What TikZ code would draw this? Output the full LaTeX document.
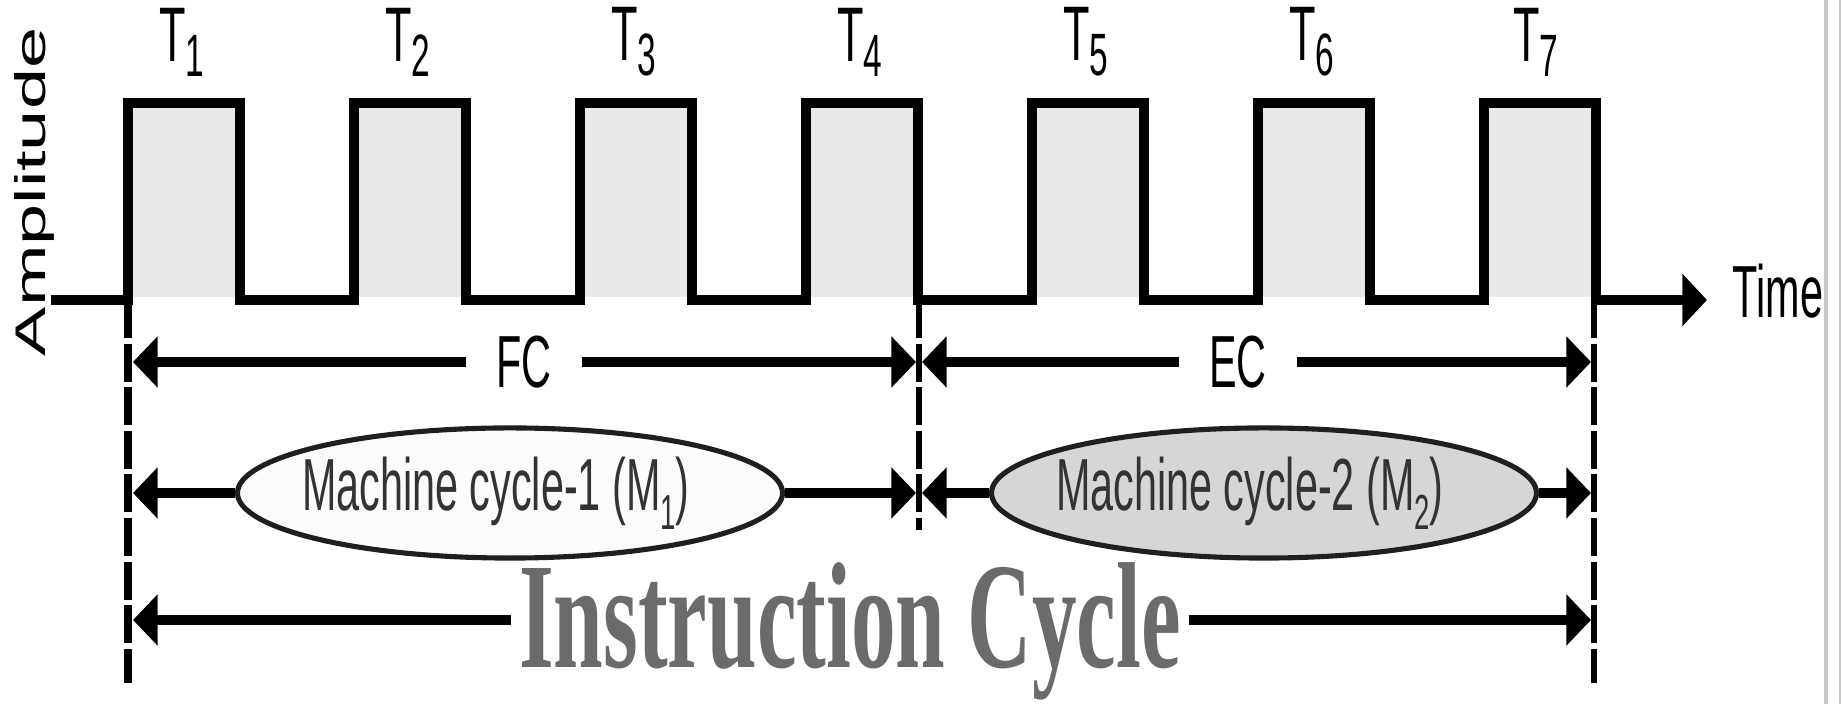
\documentclass[tikz,border=0pt]{standalone}
\usepackage{fontspec}
\setmainfont{Liberation Sans}
\newfontfamily\icfont{Liberation Serif}
\usepackage{tikz}
\usetikzlibrary{arrows.meta,shapes}
\definecolor{pulsegray}{HTML}{E9E9E9}
\definecolor{mcone}{HTML}{FBFBFB}
\definecolor{mctwo}{HTML}{D6D6D6}
\definecolor{icgray}{HTML}{6B6B6B}
\definecolor{framegray}{HTML}{C8C8C8}
\tikzstyle{wave}=[line width=2.85pt, line join=miter, -{Triangle[length=7pt,width=14.5pt]}]
\tikzstyle{dimarrow}=[line width=2.85pt, -{Triangle[length=7pt,width=14.2pt]}]
\tikzstyle{bound}=[line width=1.45pt, dash pattern=on 10.8pt off 1.6pt]
\tikzstyle{mcycle}=[ellipse, draw=black!88, line width=1.45pt, minimum width=155pt,% both ellipses the same size
minimum height=37pt, inner sep=0pt, text=black!80, font=\fontsize{21}{24}\selectfont]
\tikzstyle{tlab}=[inner sep=0pt, font=\fontsize{22}{24}\selectfont]
\tikzstyle{span}=[inner ysep=0pt, inner xsep=8.5pt, font=\fontsize{21}{24}\selectfont]
\newcommand{\squeeze}[1]{\scalebox{0.56}[1]{#1}}
\newcommand{\tsub}[1]{\squeeze{T\raisebox{-4.3pt}{\fontsize{17}{17}\selectfont #1}}}
\newcommand{\msub}[1]{M\raisebox{-5.5pt}{\fontsize{14}{14}\selectfont #1}}

\begin{document}
\begin{tikzpicture}[x=0.01cm,y=-0.01cm]
\useasboundingbox (0,0) rectangle (1841,704);

% high parts of the clock
\fill[pulsegray] (128,103) rectangle (240,297);
\fill[pulsegray] (354,103) rectangle (466,297);
\fill[pulsegray] (580,103) rectangle (692,297);
\fill[pulsegray] (806,103) rectangle (918,297);
\fill[pulsegray] (1032,103) rectangle (1144,297);
\fill[pulsegray] (1258,103) rectangle (1370,297);
\fill[pulsegray] (1484,103) rectangle (1596,297);

\draw[wave] (51,300) -- (128,300) -- (128,103) -- (240,103) -- (240,300)
 -- (354,300) -- (354,103) -- (466,103) -- (466,300)
 -- (580,300) -- (580,103) -- (692,103) -- (692,300)
 -- (806,300) -- (806,103) -- (918,103) -- (918,300)
 -- (1032,300) -- (1032,103) -- (1144,103) -- (1144,300)
 -- (1258,300) -- (1258,103) -- (1370,103) -- (1370,300)
 -- (1484,300) -- (1484,103) -- (1596,103) -- (1596,300) -- (1707,300);

\node[tlab] (t1) at (182,42) {\tsub{1}};
\node[tlab] (t2) at (408,42) {\tsub{2}};
\node[tlab] (t3) at (634,42) {\tsub{3}};
\node[tlab] (t4) at (860,42) {\tsub{4}};
\node[tlab] (t5) at (1086,42) {\tsub{5}};
\node[tlab] (t6) at (1312,42) {\tsub{6}};
\node[tlab] (t7) at (1536,42) {\tsub{7}};

\node[anchor=base west, inner sep=0pt, font=\fontsize{21}{24}\selectfont] (time) at (1732,318) {\squeeze{Time}};
\node[rotate=90, anchor=base, inner sep=0pt, font=\fontsize{21}{24}\selectfont] (amp) at (45,192) {\scalebox{1}[0.58]{Amplitude}};

% cycle boundaries
\coordinate (lt) at (128,300);
\coordinate (lb) at (128,683);
\coordinate (mt) at (919,300);
\coordinate (mb) at (919,530);
\coordinate (rt) at (1594,300);
\coordinate (rb) at (1594,683);
\draw[bound, line width=2.5pt] (lt) -- (lb);
\draw[bound] (mt) -- (mb);
\draw[bound] (rt) -- (rb);

\coordinate (fcl) at (133,362);
\coordinate (fcr) at (916,362);
\coordinate (ecl) at (922,362);
\coordinate (ecr) at (1591,362);
\coordinate (mcla) at (133,493);
\coordinate (mclb) at (916,493);
\coordinate (mcra) at (922,493);
\coordinate (mcrb) at (1591,493);
\coordinate (icl) at (133,620);
\coordinate (icr) at (1591,620);

\node[span] (fc) at (524,362) {\squeeze{FC}};
\node[span] (ec) at (1238,362) {\squeeze{EC}};

\node[mcycle, fill=mcone] (mc1) at (510,493) {\makebox[0pt]{\squeeze{Machine cycle-1 (\msub{1})}\hspace{8pt}}};
\node[mcycle, fill=mctwo] (mc2) at (1264,493) {\makebox[0pt]{\squeeze{Machine cycle-2 (\msub{2})}\hspace{8pt}}};

\node[anchor=base, inner xsep=2pt, text=icgray, font=\icfont\bfseries\fontsize{43}{48}\selectfont] (ic) at (850,668) {\scalebox{0.59}[1]{Instruction Cycle}};

\draw[dimarrow] (fc) -- (fcl);
\draw[dimarrow] (fc) -- (fcr);
\draw[dimarrow] (ec) -- (ecl);
\draw[dimarrow] (ec) -- (ecr);

\draw[dimarrow] (mc1) -- (mcla);
\draw[dimarrow] (mc1) -- (mclb);
\draw[dimarrow] (mc2) -- (mcra);
\draw[dimarrow] (mc2) -- (mcrb);

\draw[dimarrow] (ic.west |- icl) -- (icl);
\draw[dimarrow] (ic.east |- icr) -- (icr);

% window edge
\draw[framegray, line width=1.1pt] (1826,0) -- (1826,704);
\draw[framegray, line width=0.6pt] (1840,0) -- (1840,704);

\end{tikzpicture}
\end{document}
